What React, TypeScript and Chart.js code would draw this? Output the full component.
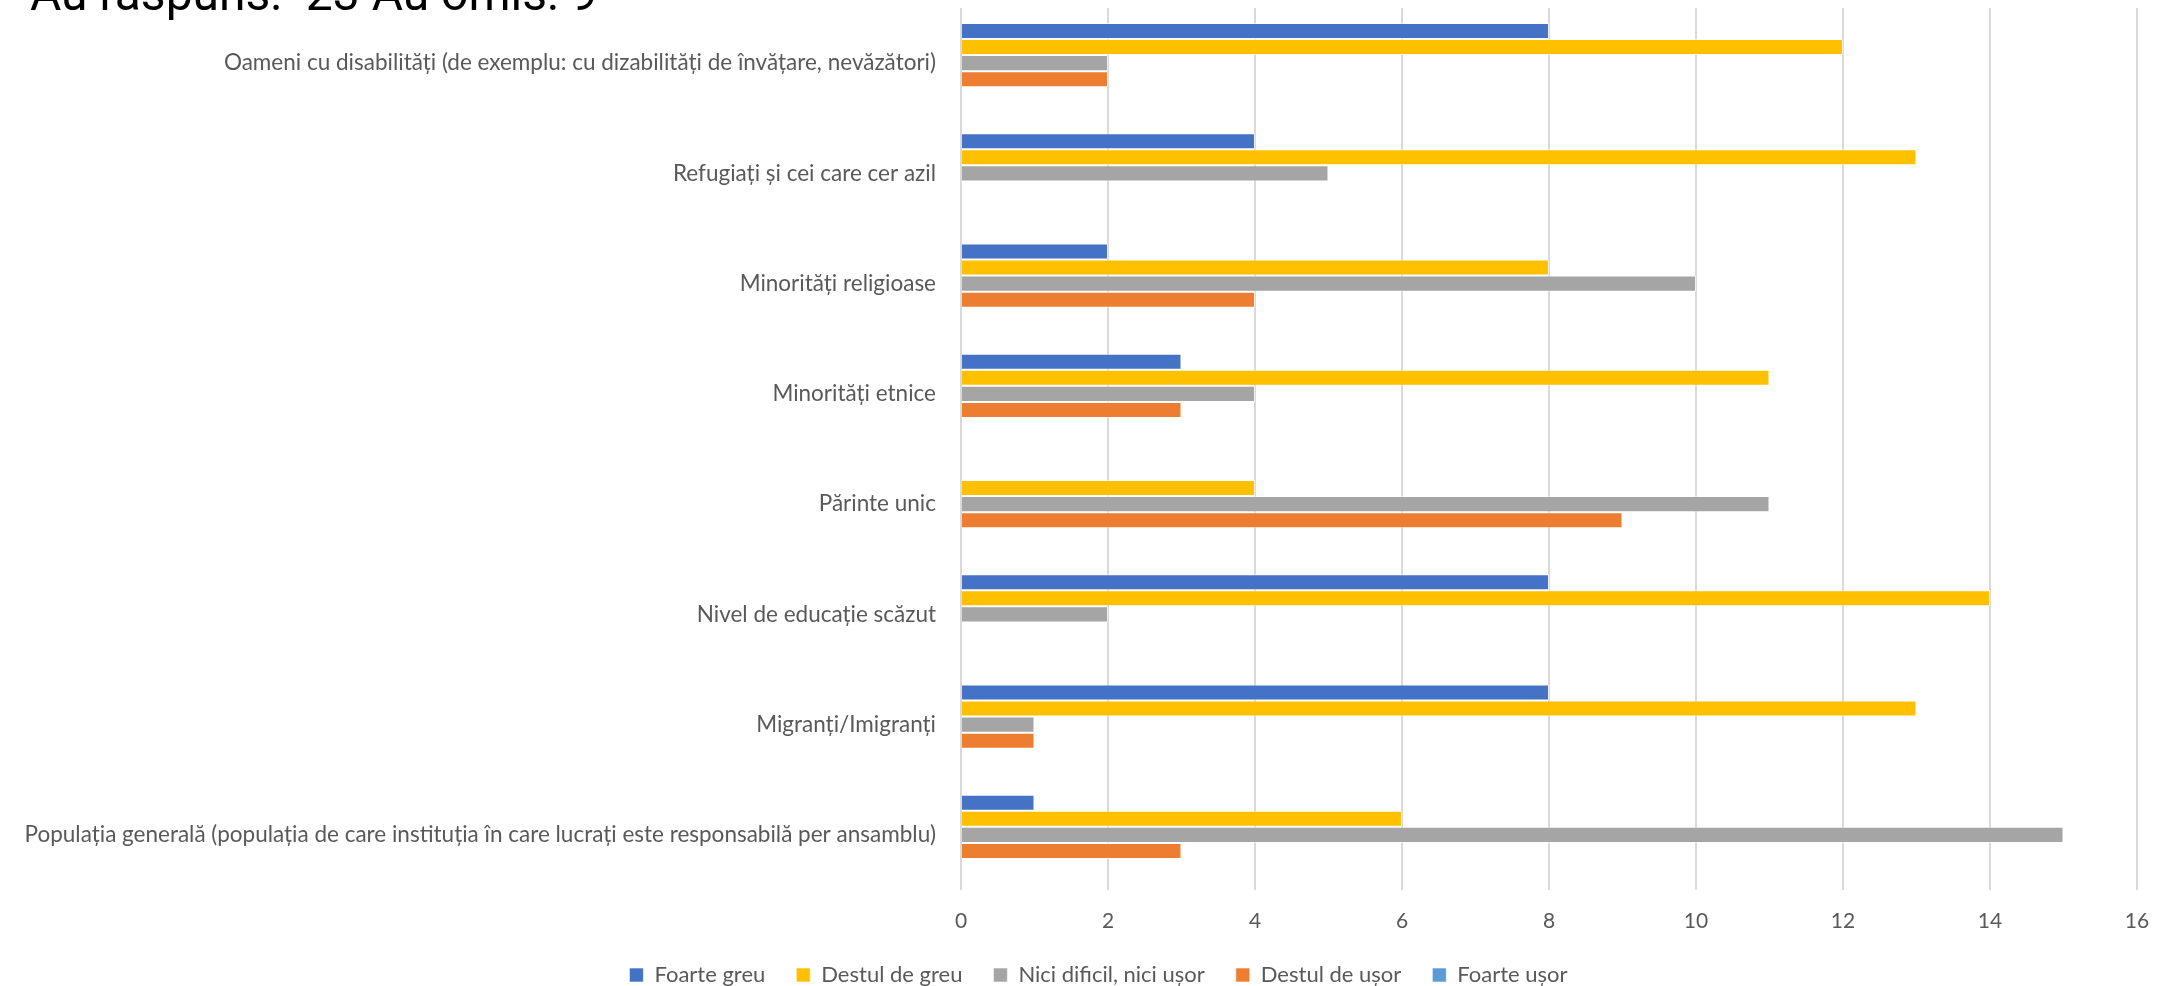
import React, { useEffect, useRef } from "react";
import { Chart, registerables } from "chart.js";

Chart.register(...registerables);

const titleText = "Au răspuns:  23 Au omis: 9";

const categories = [
  "Oameni cu disabilități (de exemplu: cu dizabilități de învățare, nevăzători)",
  "Refugiați și cei care cer azil",
  "Minorități religioase",
  "Minorități etnice",
  "Părinte unic",
  "Nivel de educație scăzut",
  "Migranți/Imigranți",
  "Populația generală (populația de care instituția în care lucrați este responsabilă per ansamblu)",
];

const seriesNames = [
  "Foarte greu",
  "Destul de greu",
  "Nici dificil, nici ușor",
  "Destul de ușor",
  "Foarte ușor",
];

const foarteGreu = [8, 4, 2, 3, 0, 8, 8, 1];
const destulDeGreu = [12, 13, 8, 11, 4, 14, 13, 6];
const niciDificil = [2, 5, 10, 4, 11, 2, 1, 15];
const destulDeUsor = [2, 0, 4, 3, 9, 0, 1, 3];
const foarteUsor = [0, 0, 0, 0, 0, 0, 0, 0];

const seriesColors = ["#4472C4", "#FFC000", "#A5A5A5", "#ED7D31", "#5B9BD5"];

const xTicks = [0, 2, 4, 6, 8, 10, 12, 14, 16];

const W = 2173;
const H = 996;
const LEGEND_SHIFT = 30;

export default function App() {
  const ref = useRef<HTMLCanvasElement | null>(null);

  useEffect(() => {
    if (!ref.current) return;
    const seriesData = [foarteGreu, destulDeGreu, niciDificil, destulDeUsor, foarteUsor];
    const titlePlugin = {
      id: "topTitle",
      afterDraw(chart: any) {
        const ctx = chart.ctx;
        ctx.save();
        ctx.font = "48px Roboto";
        ctx.fillStyle = "#000000";
        ctx.textBaseline = "alphabetic";
        ctx.textAlign = "left";
        ctx.fillText(titleText, 30, 10);
        ctx.restore();
      },
    };
    const legendShift = {
      id: "legendShift",
      afterLayout(chart: any) {
        const l = chart.legend;
        if (l) {
          l.left += LEGEND_SHIFT;
          l.right += LEGEND_SHIFT;
        }
      },
    };
    const chart = new Chart(ref.current, {
      type: "bar",
      data: {
        labels: categories,
        datasets: seriesNames.map((name, i) => ({
          label: name,
          data: seriesData[i],
          backgroundColor: seriesColors[i],
          borderColor: "rgba(255,255,255,0.6)",
          borderWidth: 1,
          categoryPercentage: 0.726,
          barPercentage: 1,
        })),
      },
      options: {
        indexAxis: "y",
        responsive: false,
        animation: false,
        maintainAspectRatio: false,
        layout: { padding: { top: 8, right: 36, left: 0, bottom: 0 } },
        plugins: {
          title: { display: false },
          tooltip: { enabled: false },
          legend: {
            display: true,
            position: "bottom",
            labels: {
              boxWidth: 14,
              boxHeight: 14,
              padding: 31,
              color: "#595959",
              font: { family: "Lato", size: 22 },
            },
          },
        },
        scales: {
          x: {
            min: 0,
            max: 16,
            afterBuildTicks: (s: any) => {
              s.ticks = xTicks.map((v) => ({ value: v }));
            },
            afterFit: (s: any) => {
              s.height = 43;
            },
            grid: { color: "#D9D9D9", lineWidth: 2, drawTicks: false },
            border: { display: false },
            ticks: {
              padding: 19,
              color: "#595959",
              font: { family: "Lato", size: 21 },
            },
          },
          y: {
            afterFit: (s: any) => {
              s.width = 961;
              s.paddingTop = 0;
              s.paddingBottom = 0;
            },
            grid: { display: false, drawTicks: false },
            border: { display: false },
            ticks: {
              padding: 25,
              autoSkip: false,
              color: "#595959",
              font: { family: "Lato", size: 22.5 },
            },
          },
        },
      },
      plugins: [titlePlugin, legendShift],
    } as any);
    return () => chart.destroy();
  }, []);

  return (
    <div
      style={{
        position: "fixed",
        left: 0,
        top: 0,
        width: W,
        height: 986,
        overflow: "hidden",
        background: "#ffffff",
      }}
    >
      <canvas ref={ref} width={W} height={H} style={{ display: "block", width: W, height: H }} />
    </div>
  );
}
